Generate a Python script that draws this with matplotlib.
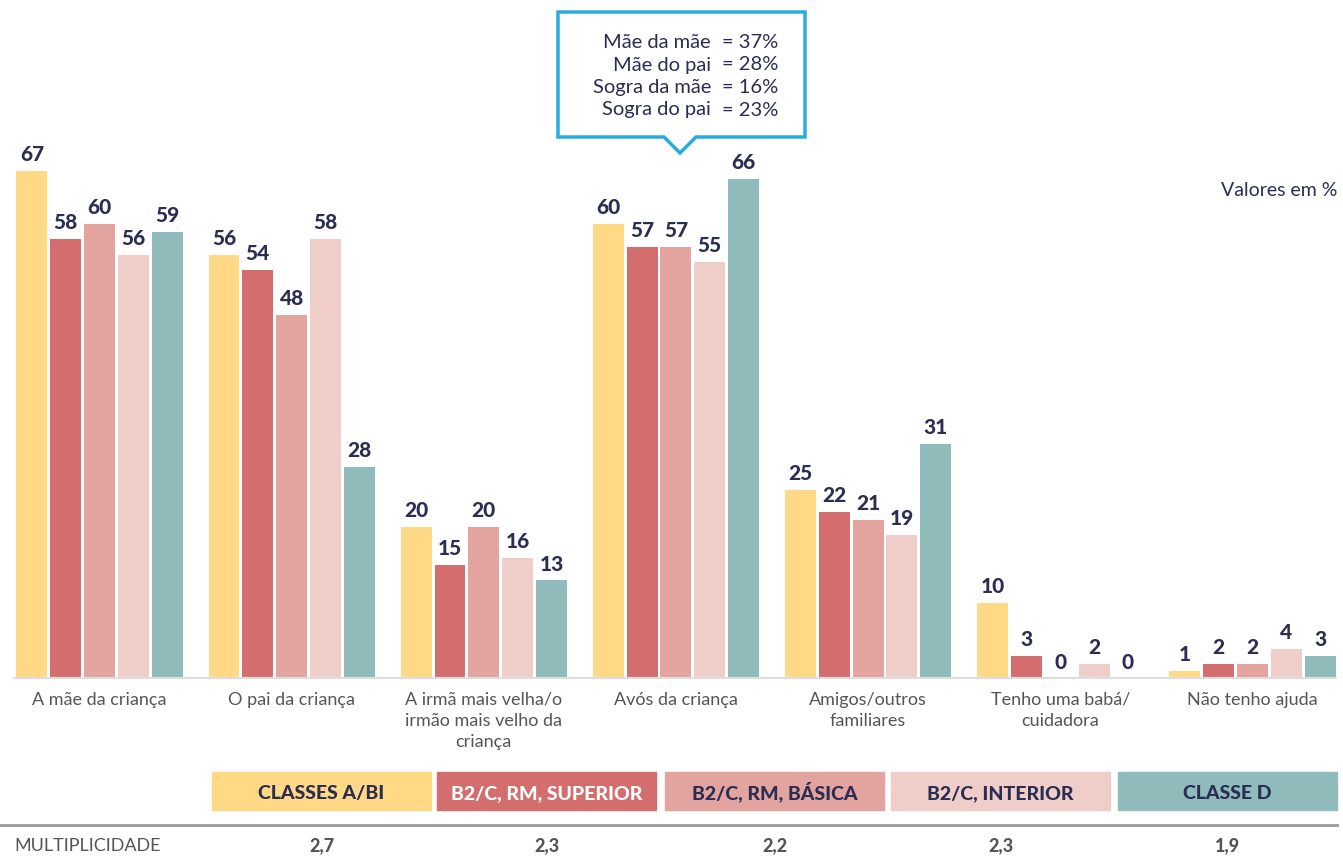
import matplotlib
matplotlib.use("Agg")
import matplotlib.pyplot as plt
import numpy as np
from matplotlib.patches import Rectangle, Polygon

plt.rcParams["font.family"] = ["Lato", "DejaVu Sans"]

categories = ["A mãe da criança", "O pai da criança",
              "A irmã mais velha/o\nirmão mais velho da\ncriança",
              "Avós da criança", "Amigos/outros\nfamiliares",
              "Tenho uma babá/\ncuidadora", "Não tenho ajuda"]
series_names = ["CLASSES A/BI", "B2/C, RM, SUPERIOR", "B2/C, RM, BÁSICA",
                "B2/C, INTERIOR", "CLASSE D"]
values = [
    [67, 56, 20, 60, 25, 10, 1],
    [58, 54, 15, 57, 22, 3, 2],
    [60, 48, 20, 57, 21, 0, 2],
    [56, 58, 16, 55, 19, 2, 4],
    [59, 28, 13, 66, 31, 0, 3],
]
multiplicidade = ["2,7", "2,3", "2,2", "2,3", "1,9"]
callout_names = ["Mãe da mãe", "Mãe do pai", "Sogra da mãe", "Sogra do pai"]
callout_vals = ["= 37%", "= 28%", "= 16%", "= 23%"]

colors = ["#FFD985", "#D46E6E", "#E3A39E", "#EFCECA", "#8FBBBB"]
legend_text_colors = ["#2B2D52", "#FFFFFF", "#2B2D52", "#2B2D52", "#2B2D52"]
navy = "#2B2D52"
gray = "#555555"

W, H = 1343, 858
fig = plt.figure(figsize=(W / 100, H / 100), dpi=100)

def fx(px):
    return px / W

def fy(py):
    return 1 - py / H

ax = fig.add_axes([fx(13), fy(679), fx(1337) - fx(13), fy(110.5) - fy(679)])
x = np.arange(len(categories))
pitch = 0.176
width = 0.161
for i, (vals, c) in enumerate(zip(values, colors)):
    xs = x + (i - 2) * pitch
    ax.bar(xs, vals, width=width, color=c, zorder=2)
    for xx, v in zip(xs, vals):
        ax.annotate(str(v), (xx, v), xytext=(0, 5), textcoords="offset points",
                    ha="center", va="bottom", fontsize=15, fontweight="black",
                    color=navy)

ax.set_xlim(-0.45, 6.44)
ax.set_ylim(0, 75)
ax.axhline(0, color="#DDDDDD", lw=3, zorder=3)
for s in ax.spines.values():
    s.set_visible(False)
ax.set_yticks([])
ax.set_xticks(x)
ax.set_xticklabels(categories, fontsize=13, color=gray, linespacing=1.4)
ax.tick_params(axis="x", length=0, pad=9)

fig.text(fx(1337), fy(190), "Valores em %", ha="right", va="center",
         fontsize=14, color=navy)

# legend boxes
box_left = [212, 437, 665, 891, 1118]
box_w = 219
for bl, name, c, tc, m in zip(box_left, series_names, colors,
                              legend_text_colors, multiplicidade):
    fig.patches.append(Rectangle((fx(bl), fy(810)), fx(box_w), fy(772) - fy(810),
                                 transform=fig.transFigure, color=c))
    fig.text(fx(bl + box_w / 2), fy(799), name, ha="center", va="baseline",
             fontsize=14, fontweight="black", color=tc)
    fig.text(fx(bl + box_w / 2), fy(851), m, ha="center", va="baseline",
             fontsize=13, fontweight="black", color=gray)

fig.add_artist(plt.Line2D([0, fx(1337)], [fy(825), fy(825)],
                          transform=fig.transFigure, color="#999999", lw=2))
fig.text(fx(14), fy(851), "MULTIPLICIDADE", ha="left", va="baseline",
         fontsize=13, color=gray)

# callout
pts = [(558, 12), (805, 12), (805, 137), (696, 137), (680, 153), (664, 137), (558, 137)]
fig.patches.append(Polygon([(fx(a), fy(b)) for a, b in pts], closed=True,
                           transform=fig.transFigure, facecolor="white",
                           edgecolor="#29ABE2", lw=2.5))
for k, (n, v) in enumerate(zip(callout_names, callout_vals)):
    yy = fy(48 + k * 22.5)
    fig.text(fx(711), yy, n, ha="right", va="baseline", fontsize=14.5, color=navy)
    fig.text(fx(722), yy, v, ha="left", va="baseline", fontsize=14.5, color=navy)

fig.savefig("out.png", dpi=100)
